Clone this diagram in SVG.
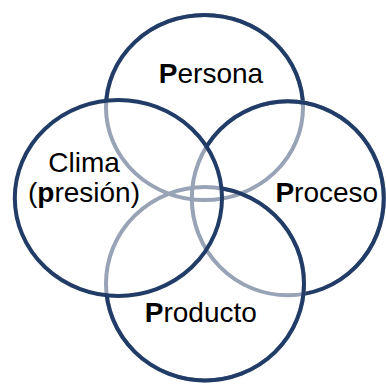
<svg xmlns="http://www.w3.org/2000/svg" width="386" height="384" viewBox="0 0 386 384">
  <style>
    .ring { fill: none; stroke-width: 4; }
    .under { stroke: #98a3b6; }
    .over { stroke: #223c68; }
    .label { font-family: "Liberation Sans", Arial, sans-serif; font-size: 28px; fill: #000; text-anchor: middle; }
    .label .b { font-weight: bold; }
  </style>
  <defs>
    <!-- Each ring turns pale where it passes beneath a ring stacked above it -->
    <mask id="m-persona" maskUnits="userSpaceOnUse" x="0" y="0" width="386" height="384">
      <rect x="0" y="0" width="386" height="384" fill="#fff"/>
      <ellipse cx="287.8" cy="198.3" rx="96" ry="97" fill="#000"/>
      <ellipse cx="205" cy="283.7" rx="99" ry="96.7" fill="#000"/>
      <ellipse cx="118.4" cy="198" rx="103.6" ry="98" fill="#000"/>
    </mask>
    <mask id="m-proceso" maskUnits="userSpaceOnUse" x="0" y="0" width="386" height="384">
      <rect x="0" y="0" width="386" height="384" fill="#fff"/>
      <ellipse cx="205" cy="283.7" rx="99" ry="96.7" fill="#000"/>
      <ellipse cx="118.4" cy="198" rx="103.6" ry="98" fill="#000"/>
    </mask>
    <mask id="m-producto" maskUnits="userSpaceOnUse" x="0" y="0" width="386" height="384">
      <rect x="0" y="0" width="386" height="384" fill="#fff"/>
      <ellipse cx="118.4" cy="198" rx="103.6" ry="98" fill="#000"/>
    </mask>
  </defs>

  <rect x="0" y="0" width="386" height="384" fill="#fff"/>

  <g id="persona">
    <ellipse class="ring under" cx="204.5" cy="107.5" rx="98.5" ry="92.5"/>
    <ellipse class="ring over" cx="204.5" cy="107.5" rx="98.5" ry="92.5" mask="url(#m-persona)"/>
    <text class="label" x="211" y="82.5"><tspan class="b">P</tspan>ersona</text>
  </g>

  <g id="proceso">
    <ellipse class="ring under" cx="287.8" cy="198.3" rx="96" ry="97"/>
    <ellipse class="ring over" cx="287.8" cy="198.3" rx="96" ry="97" mask="url(#m-proceso)"/>
    <text class="label" x="326.8" y="201.5"><tspan class="b">P</tspan>roceso</text>
  </g>

  <g id="producto">
    <ellipse class="ring under" cx="205" cy="283.7" rx="99" ry="96.7"/>
    <ellipse class="ring over" cx="205" cy="283.7" rx="99" ry="96.7" mask="url(#m-producto)"/>
    <text class="label" x="200.8" y="322"><tspan class="b">P</tspan>roducto</text>
  </g>

  <g id="clima">
    <ellipse class="ring over" cx="118.4" cy="198" rx="103.6" ry="98"/>
    <text class="label" x="84" y="172">Clima</text>
    <text class="label" x="84" y="202">(<tspan class="b">p</tspan>resión)</text>
  </g>

  <g id="connectors"/>
</svg>
